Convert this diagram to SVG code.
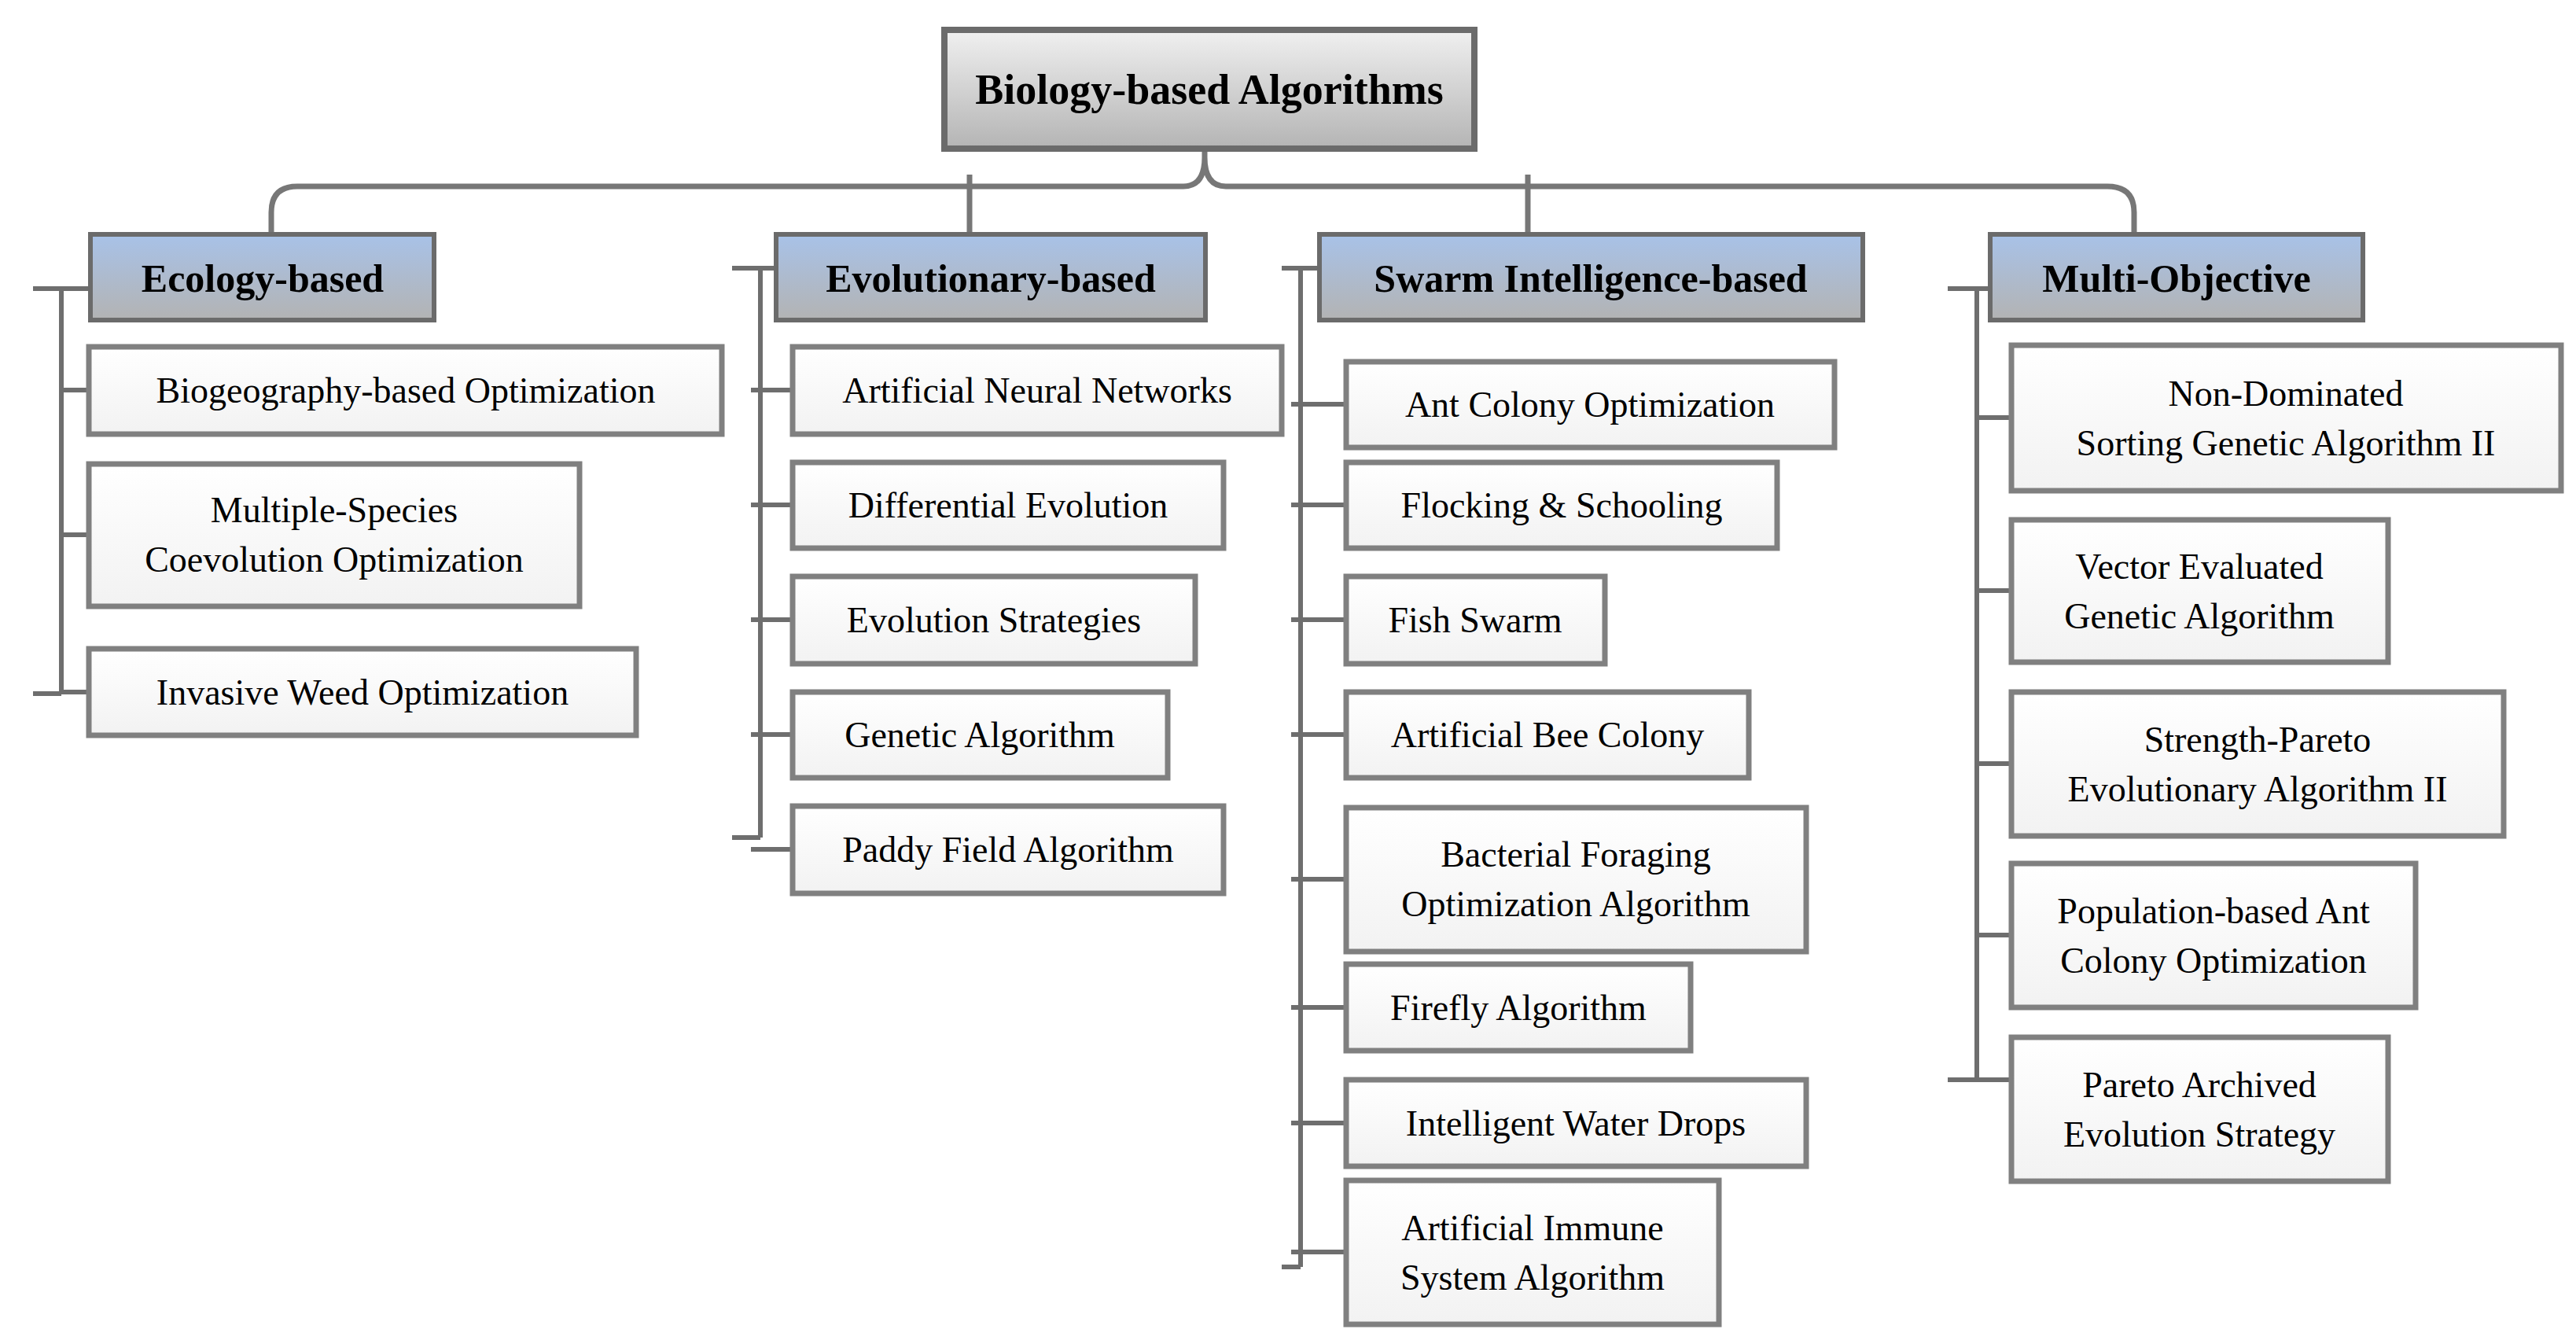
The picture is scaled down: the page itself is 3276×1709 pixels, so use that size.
<svg xmlns="http://www.w3.org/2000/svg" width="3276" height="1709" viewBox="0 0 3276 1709">
<style>
text{font-family:"Liberation Serif","Times New Roman",serif;fill:#000;text-anchor:middle;dominant-baseline:central}
.root text{font-size:54px;font-weight:bold}
.cat text{font-size:50px;font-weight:bold}
.leaf text{font-size:46px}
.root rect{fill:url(#gr);stroke:#6b6b6b;stroke-width:8}
.cat rect{fill:url(#gb);stroke:#6b6b6b;stroke-width:6}
.leaf rect{fill:url(#gw);stroke:#808080;stroke-width:7}
.c{fill:none;stroke:#777;stroke-width:7}
.s{fill:none;stroke:#6e6e6e;stroke-width:6}
</style>
<defs>
<linearGradient id="gr" x1="0" y1="0" x2="0" y2="1"><stop offset="0" stop-color="#f0f0f0"/><stop offset="1" stop-color="#b4b4b4"/></linearGradient>
<linearGradient id="gb" x1="0" y1="0" x2="0" y2="1"><stop offset="0" stop-color="#a8c2e8"/><stop offset="1" stop-color="#b3b3b3"/></linearGradient>
<linearGradient id="gw" x1="0" y1="0" x2="0" y2="1"><stop offset="0" stop-color="#ffffff"/><stop offset="1" stop-color="#f2f2f2"/></linearGradient>
</defs>
<g id="connectors">
<path class="c" d="M345 296 V270 Q345 237 378 237 H1505 Q1532 237 1532 200 V189 M1532 200 Q1532 237 1559 237 H2680 Q2714 237 2714 270 V296"/>
<path class="c" d="M1233 222 V296 M1943 222 V296"/>
<path class="s" d="M42 367 H115 M78 367 V882 M42 882 H78 M78 496 H113 M78 680 H113 M78 880 H113"/>
<path class="s" d="M931 341 H987 M967 341 V1065 M931 1065 H967 M955 496 H1008 M955 642 H1008 M955 788 H1008 M955 934 H1008 M955 1080 H1008"/>
<path class="s" d="M1630 341 H1678 M1654 341 V1611 M1630 1611 H1654 M1642 514 H1712 M1642 642 H1712 M1642 788 H1712 M1642 934 H1712 M1642 1118 H1712 M1642 1281 H1712 M1642 1428 H1712 M1642 1592 H1712"/>
<path class="s" d="M2477 367 H2531 M2514 367 V1373 M2477 1373 H2514 M2514 531 H2558 M2514 751 H2558 M2514 971 H2558 M2514 1189 H2558 M2514 1373 H2558"/>
</g>
<g id="root" class="root"><rect x="1201" y="38" width="674" height="151"/><text x="1538" y="114">Biology-based Algorithms</text></g>
<g id="cat-eco" class="cat"><rect x="115" y="298" width="437" height="109"/><text x="334" y="354">Ecology-based</text></g>
<g id="cat-evo" class="cat"><rect x="987" y="298" width="546" height="109"/><text x="1260" y="354">Evolutionary-based</text></g>
<g id="cat-swarm" class="cat"><rect x="1678" y="298" width="691" height="109"/><text x="2023" y="354">Swarm Intelligence-based</text></g>
<g id="cat-multi" class="cat"><rect x="2531" y="298" width="474" height="109"/><text x="2768" y="354">Multi-Objective</text></g>
<g id="n-bbo" class="leaf"><rect x="113" y="441" width="805" height="111"/><text x="516" y="496">Biogeography-based Optimization</text></g>
<g id="n-msco" class="leaf"><rect x="113" y="590" width="624" height="181"/><text x="425" y="648">Multiple-Species</text><text x="425" y="711">Coevolution Optimization</text></g>
<g id="n-iwo" class="leaf"><rect x="113" y="825" width="696" height="110"/><text x="461" y="880">Invasive Weed Optimization</text></g>
<g id="n-ann" class="leaf"><rect x="1008" y="441" width="622" height="111"/><text x="1319" y="496">Artificial Neural Networks</text></g>
<g id="n-de" class="leaf"><rect x="1008" y="588" width="548" height="109"/><text x="1282" y="642">Differential Evolution</text></g>
<g id="n-es" class="leaf"><rect x="1008" y="733" width="512" height="111"/><text x="1264" y="788">Evolution Strategies</text></g>
<g id="n-ga" class="leaf"><rect x="1008" y="880" width="477" height="109"/><text x="1246" y="934">Genetic Algorithm</text></g>
<g id="n-pfa" class="leaf"><rect x="1008" y="1025" width="548" height="111"/><text x="1282" y="1080">Paddy Field Algorithm</text></g>
<g id="n-aco" class="leaf"><rect x="1712" y="460" width="621" height="109"/><text x="2022" y="514">Ant Colony Optimization</text></g>
<g id="n-fs" class="leaf"><rect x="1712" y="588" width="548" height="109"/><text x="1986" y="642">Flocking &amp; Schooling</text></g>
<g id="n-fish" class="leaf"><rect x="1712" y="733" width="329" height="111"/><text x="1876" y="788">Fish Swarm</text></g>
<g id="n-abc" class="leaf"><rect x="1712" y="880" width="512" height="109"/><text x="1968" y="934">Artificial Bee Colony</text></g>
<g id="n-bfo" class="leaf"><rect x="1712" y="1027" width="585" height="183"/><text x="2004" y="1086">Bacterial Foraging</text><text x="2004" y="1149">Optimization Algorithm</text></g>
<g id="n-ff" class="leaf"><rect x="1712" y="1226" width="438" height="110"/><text x="1931" y="1281">Firefly Algorithm</text></g>
<g id="n-iwd" class="leaf"><rect x="1712" y="1373" width="585" height="110"/><text x="2004" y="1428">Intelligent Water Drops</text></g>
<g id="n-ais" class="leaf"><rect x="1712" y="1501" width="474" height="183"/><text x="1949" y="1561">Artificial Immune</text><text x="1949" y="1624">System Algorithm</text></g>
<g id="n-nsga" class="leaf"><rect x="2558" y="439" width="699" height="185"/><text x="2907" y="500">Non-Dominated</text><text x="2907" y="563">Sorting Genetic Algorithm II</text></g>
<g id="n-vega" class="leaf"><rect x="2558" y="661" width="479" height="181"/><text x="2797" y="720">Vector Evaluated</text><text x="2797" y="783">Genetic Algorithm</text></g>
<g id="n-spea" class="leaf"><rect x="2558" y="880" width="626" height="183"/><text x="2871" y="940">Strength-Pareto</text><text x="2871" y="1003">Evolutionary Algorithm II</text></g>
<g id="n-pbaco" class="leaf"><rect x="2558" y="1098" width="514" height="183"/><text x="2815" y="1158">Population-based Ant</text><text x="2815" y="1221">Colony Optimization</text></g>
<g id="n-paes" class="leaf"><rect x="2558" y="1319" width="479" height="183"/><text x="2797" y="1379">Pareto Archived</text><text x="2797" y="1442">Evolution Strategy</text></g>
</svg>
